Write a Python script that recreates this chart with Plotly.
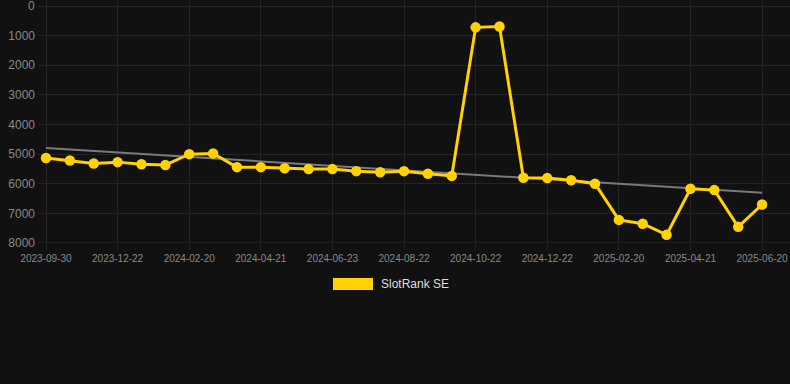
import plotly.graph_objects as go

dates = [
    "2023-09-30", "2023-10-28", "2023-11-25", "2023-12-22", "2024-01-11", "2024-01-31",
    "2024-02-20", "2024-03-11", "2024-04-01", "2024-04-21", "2024-05-12", "2024-06-02",
    "2024-06-23", "2024-07-13", "2024-08-02", "2024-08-22", "2024-09-11", "2024-10-01",
    "2024-10-22", "2024-11-11", "2024-12-01", "2024-12-22", "2025-01-11", "2025-01-31",
    "2025-02-20", "2025-03-12", "2025-04-01", "2025-04-21", "2025-05-11", "2025-05-31",
    "2025-06-20",
]
rank_se = [5130, 5215, 5315, 5270, 5340, 5370, 5000, 4975, 5440, 5440, 5475, 5505,
           5505, 5575, 5610, 5575, 5665, 5735, 720, 690, 5800, 5810, 5880, 6000,
           7220, 7350, 7725, 6170, 6215, 7455, 6700]
trend_x = [dates[0], dates[-1]]
trend_y = [4790, 6305]
tick_labels = dates[::3]
y_ticks = [0, 1000, 2000, 3000, 4000, 5000, 6000, 7000, 8000]
series_name = "SlotRank SE"

BG = "#111111"
GRID = "#232323"
YELLOW = "#FFD200"
TICK_COLOR = "#888888"

fig = go.Figure()
fig.add_trace(go.Scatter(
    x=trend_x, y=trend_y, mode="lines",
    line=dict(color="#7a7a7a", width=2), showlegend=False, hoverinfo="skip",
))
fig.add_trace(go.Scatter(
    x=dates, y=rank_se, mode="lines+markers", name=series_name,
    line=dict(color=YELLOW, width=3),
    marker=dict(color=YELLOW, size=10.5),
    showlegend=False, cliponaxis=False,
))

# the top tick label sits at the very edge of the page; draw it as text
y_ticktext = ["" if v == y_ticks[0] else str(v) for v in y_ticks]

fig.update_layout(
    width=790, height=384,
    margin=dict(l=38, r=0, t=0, b=141),
    paper_bgcolor=BG, plot_bgcolor=BG,
    font=dict(family="Liberation Sans, Arial, sans-serif", color=TICK_COLOR),
    showlegend=False,
    xaxis=dict(
        type="category", categoryorder="array", categoryarray=dates,
        range=[-0.335, 31.17],
        tickmode="array", tickvals=tick_labels, ticktext=tick_labels,
        tickangle=0,
        showgrid=True, gridcolor=GRID, gridwidth=1,
        ticks="outside", ticklen=6, tickcolor=GRID,
        tickfont=dict(size=10, color=TICK_COLOR),
        showline=False, zeroline=False,
    ),
    yaxis=dict(
        range=[8000, -203],
        tickmode="array", tickvals=y_ticks, ticktext=y_ticktext,
        showgrid=True, gridcolor=GRID, gridwidth=1,
        tickfont=dict(size=12, color=TICK_COLOR),
        ticks="", ticklabelstandoff=2,
        showline=False, zeroline=False,
    ),
    shapes=[
        dict(type="rect", xref="paper", yref="paper",
             x0=(333 - 38) / 752, x1=(373 - 38) / 752,
             y0=(243 - 290) / 243, y1=(243 - 278) / 243,
             fillcolor=YELLOW, line=dict(width=0)),
        dict(type="line", xref="paper", yref="y", x0=0, x1=1, y0=8000, y1=8000,
             line=dict(color="#2e2e2e", width=1), layer="below"),
    ],
    annotations=[
        dict(text=series_name, xref="paper", yref="paper",
             x=(379 - 38) / 752, y=(243 - 284) / 243,
             xanchor="left", yanchor="middle", showarrow=False,
             font=dict(size=12, color="#dddddd")),
        dict(text=str(y_ticks[0]), xref="paper", yref="y",
             x=-2 / 752, y=y_ticks[0], xanchor="right", yanchor="middle",
             showarrow=False, font=dict(size=12, color=TICK_COLOR),
             borderpad=0),
    ],
)

fig.write_html(
    "out.html",
    config={"displayModeBar": False},
    post_script="document.body.style.margin='0';document.body.style.background='#111111';",
)
